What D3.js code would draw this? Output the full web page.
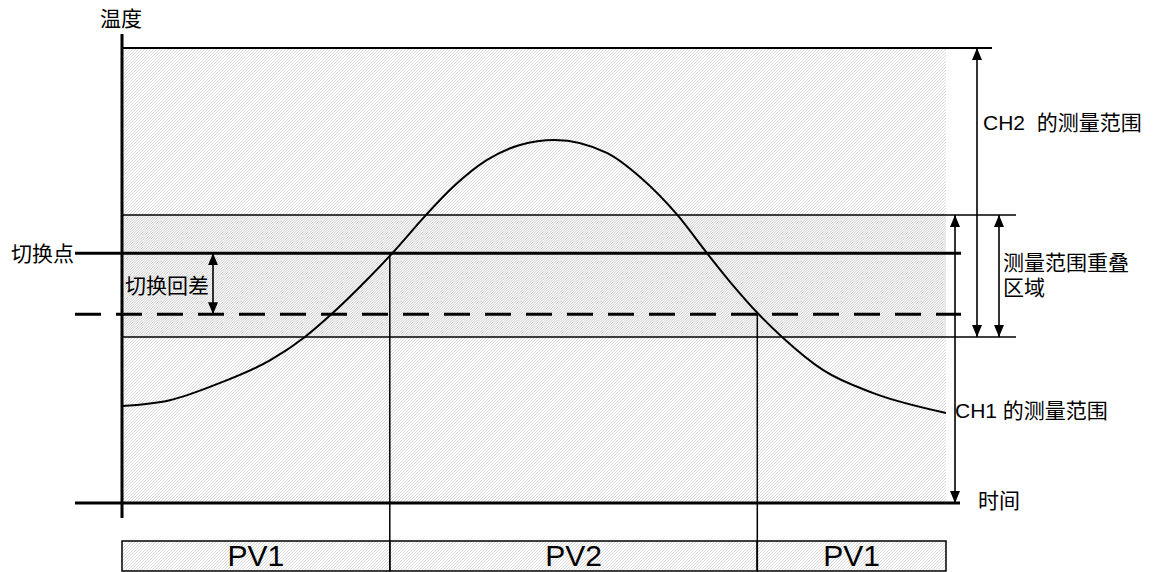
<!DOCTYPE html>
<html>
<head>
<meta charset="utf-8">
<script src="https://cdn.jsdelivr.net/npm/d3@7"></script>
<style>
  body { margin: 0; background: #fff; }
  text { font-family: "Liberation Sans", Arial, "Noto Sans CJK SC", sans-serif; font-size: 21px; fill: #000; }
</style>
</head>
<body>
<div id="chart"></div>
<script>
// data (time 0..100, temperature 0..100 in arbitrary units)
const timeValues = [0, 5.8, 11.9, 18, 22.2, 25.6, 29.7, 32.8, 36.8, 40.2, 44.3, 48.3, 52.5,
                    58.9, 62.9, 67.5, 71, 74.3, 77.1, 80.1, 85.1, 91.1, 100];
const tempValues = [21.3, 22.6, 26.4, 31.4, 36.5, 41.8, 49, 54.9, 63.1, 69.5, 75.4, 78.7, 79.8,
                    76.9, 71.6, 63.1, 54.9, 47.5, 41.8, 36.5, 29.2, 24.2, 19.8];
const ch2Range = [36.5, 100];
const ch1Range = [0, 63.3];
const switchPoint = 54.9;
const switchOff = 41.5;
const switchTimes = [32.5, 77.1];
const pvLabels = ["PV1", "PV2", "PV1"];

const W = 1154, H = 572;
const margin = { top: 48, right: 208, bottom: 69, left: 122 };
const width = W - margin.left - margin.right;
const height = H - margin.top - margin.bottom;

const svg = d3.select("#chart").append("svg")
    .attr("width", W)
    .attr("height", H);

const defs = svg.append("defs");
function hatch(id, step, color) {
    const p = defs.append("pattern")
        .attr("id", id)
        .attr("patternUnits", "userSpaceOnUse")
        .attr("width", step).attr("height", step);
    p.append("rect").attr("width", step).attr("height", step).attr("fill", "#fff");
    p.append("path")
        .attr("d", `M0,${step} L${step},0 M${-step / 2},${step / 2} L${step / 2},${-step / 2} M${step / 2},${step * 1.5} L${step * 1.5},${step / 2}`)
        .attr("stroke", color).attr("stroke-width", 0.8);
}
hatch("light", 3, "#cfcfcf");
hatch("dark", 2.5, "#b9b9b9");

defs.append("marker")
    .attr("id", "arr")
    .attr("viewBox", "0 0 12 10")
    .attr("refX", 12).attr("refY", 5)
    .attr("markerWidth", 12).attr("markerHeight", 10)
    .attr("markerUnits", "userSpaceOnUse")
    .attr("orient", "auto-start-reverse")
    .append("path").attr("d", "M0,0 L12,5 L0,10 Z").attr("fill", "#000");

const g = svg.append("g").attr("transform", `translate(${margin.left},${margin.top})`);

const x = d3.scaleLinear().domain([0, 100]).range([0, width]);
const y = d3.scaleLinear().domain([0, 100]).range([height, 0]);

// hatched areas
g.append("rect")
    .attr("x", x(0)).attr("y", y(100))
    .attr("width", x(100) - x(0)).attr("height", y(0) - y(100))
    .attr("fill", "url(#light)");
g.append("rect")
    .attr("x", x(0)).attr("y", y(ch1Range[1]))
    .attr("width", x(100) - x(0)).attr("height", y(ch2Range[0]) - y(ch1Range[1]))
    .attr("fill", "url(#dark)");

function hline(v, x0, x1, sw, dash) {
    const l = g.append("line")
        .attr("x1", x0).attr("x2", x1)
        .attr("y1", y(v)).attr("y2", y(v))
        .attr("stroke", "#000").attr("stroke-width", sw);
    if (dash) l.attr("stroke-dasharray", dash);
    return l;
}
// range boundaries
hline(ch2Range[1], x(0), width + 46, 2);
hline(ch1Range[1], x(0), width + 70, 1.6);
hline(ch2Range[0], x(0), width + 70, 1.6);
// switch point and hysteresis
hline(switchPoint, -47, width + 15, 3);
hline(switchOff, -47, width + 15, 3, "26,15");

// PV bar
const barTop = height + 38, barH = 30;
const segs = [0, ...switchTimes, 100];
pvLabels.forEach((lab, i) => {
    g.append("rect")
        .attr("x", x(segs[i])).attr("y", barTop)
        .attr("width", x(segs[i + 1]) - x(segs[i])).attr("height", barH)
        .attr("fill", "url(#light)")
        .attr("stroke", "#000").attr("stroke-width", 1.5);
    g.append("text")
        .attr("x", (x(segs[i]) + x(segs[i + 1])) / 2)
        .attr("y", barTop + 24.5)
        .attr("text-anchor", "middle")
        .style("font-size", "30px")
        .text(lab);
});

// switching verticals
g.append("line")
    .attr("x1", x(switchTimes[0])).attr("x2", x(switchTimes[0]))
    .attr("y1", y(switchPoint)).attr("y2", barTop + barH)
    .attr("stroke", "#000").attr("stroke-width", 1.5);
g.append("line")
    .attr("x1", x(switchTimes[1])).attr("x2", x(switchTimes[1]))
    .attr("y1", y(switchOff)).attr("y2", barTop + barH)
    .attr("stroke", "#000").attr("stroke-width", 1.5);

// temperature curve
const curveData = timeValues.map((t, i) => ({ t, v: tempValues[i] }));
const line = d3.line()
    .x(d => x(d.t))
    .y(d => y(d.v))
    .curve(d3.curveMonotoneX);
g.append("path")
    .datum(curveData)
    .attr("d", line)
    .attr("fill", "none")
    .attr("stroke", "#000")
    .attr("stroke-width", 2);

// axes
g.append("line")
    .attr("x1", -47).attr("x2", width + 14)
    .attr("y1", y(0)).attr("y2", y(0))
    .attr("stroke", "#000").attr("stroke-width", 3);
g.append("line")
    .attr("x1", 0).attr("x2", 0)
    .attr("y1", -14).attr("y2", height + 15)
    .attr("stroke", "#000").attr("stroke-width", 3);

// arrows
function varrow(xp, v0, v1) {
    g.append("line")
        .attr("x1", xp).attr("x2", xp)
        .attr("y1", y(v0)).attr("y2", y(v1))
        .attr("stroke", "#000").attr("stroke-width", 1.6)
        .attr("marker-start", "url(#arr)")
        .attr("marker-end", "url(#arr)");
}
varrow(91, switchPoint, switchOff);
varrow(width + 31, ch2Range[1], ch2Range[0]);
varrow(width + 9, ch1Range[1], ch1Range[0]);
varrow(width + 53, ch1Range[1], ch2Range[0]);

// labels
svg.append("text").attr("x", 100).attr("y", 26).text("温度");
svg.append("text").attr("x", 74).attr("y", 261).attr("text-anchor", "end").text("切换点");
svg.append("text").attr("x", 125).attr("y", 293).text("切换回差");
svg.append("text").attr("x", 983).attr("y", 130).attr("xml:space", "preserve").text("CH2  的测量范围");
svg.append("text").attr("x", 1003).attr("y", 270).text("测量范围重叠");
svg.append("text").attr("x", 1003).attr("y", 295).text("区域");
svg.append("text").attr("x", 955).attr("y", 418).text("CH1 的测量范围");
svg.append("text").attr("x", 978).attr("y", 508).text("时间");
</script>
</body>
</html>
